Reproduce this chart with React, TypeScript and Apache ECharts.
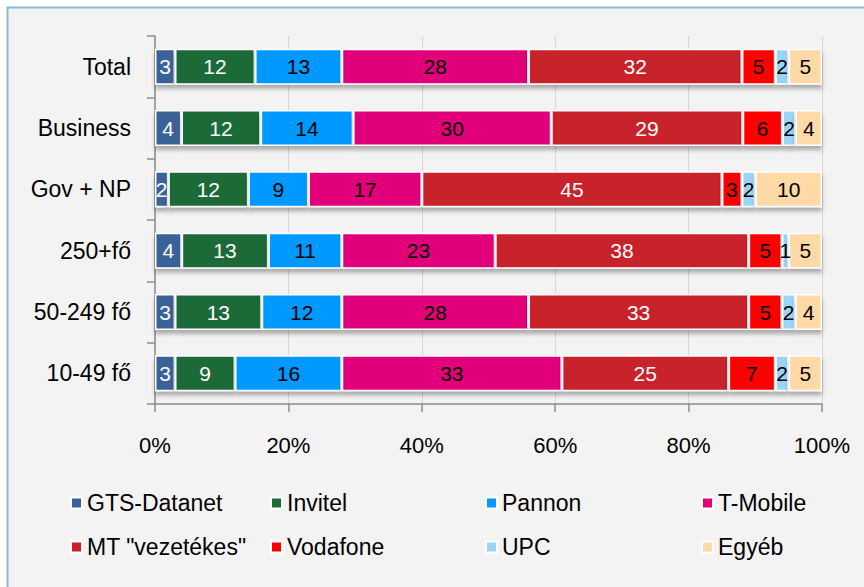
import React, { useEffect, useRef } from "react";
import * as echarts from "echarts";

const categories = ["Total", "Business", "Gov + NP", "250+fő", "50-249 fő", "10-49 fő"];
const seriesNames = ["GTS-Datanet", "Invitel", "Pannon", "T-Mobile", 'MT "vezetékes"', "Vodafone", "UPC", "Egyéb"];
const gts = [3, 4, 2, 4, 3, 3];
const invitel = [12, 12, 12, 13, 13, 9];
const pannon = [13, 14, 9, 11, 12, 16];
const tmobile = [28, 30, 17, 23, 28, 33];
const mtVezetekes = [32, 29, 45, 38, 33, 25];
const vodafone = [5, 6, 3, 5, 5, 7];
const upc = [2, 2, 2, 1, 2, 2];
const egyeb = [5, 4, 10, 5, 4, 5];
const xTicks = [0, 20, 40, 60, 80, 100];

const seriesValues = [gts, invitel, pannon, tmobile, mtVezetekes, vodafone, upc, egyeb];
const colors = ["#3A6297", "#1F6B38", "#0099FF", "#E2007A", "#C8202A", "#FF0000", "#9AD5F8", "#FFD9A6"];
const labelColors = ["#FFFFFF", "#FFFFFF", "#000000", "#000000", "#FFFFFF", "#000000", "#000000", "#000000"];
const legendLeft = [70, 270, 485, 701];
const legendTop = [490, 534];

export default function App() {
  const ref = useRef<HTMLDivElement>(null);
  useEffect(() => {
    if (!ref.current) return;
    const chart = echarts.init(ref.current, null, { renderer: "svg" });
    const totals = categories.map((_, i) => seriesValues.reduce((s, arr) => s + arr[i], 0));
    const font = "Liberation Sans, Arial, sans-serif";
    const series = seriesNames.map((name, si) => ({
      name,
      type: "bar",
      stack: "total",
      barWidth: 36,
      data: seriesValues[si].map((v, i) => ({ value: (v / totals[i]) * 100, raw: v })),
      itemStyle: {
        color: colors[si],
        borderColor: "#FFFFFF",
        borderWidth: 1.5,
        shadowColor: "rgba(0,0,0,0.3)",
        shadowBlur: 4,
        shadowOffsetY: 4,
      },
      label: {
        show: true,
        position: "inside",
        fontSize: 21,
        fontFamily: font,
        color: labelColors[si],
        formatter: (p: any) => String(p.data.raw),
      },
    }));
    const legends = seriesNames.map((name, i) => ({
      data: [name],
      left: legendLeft[i % 4],
      top: legendTop[Math.floor(i / 4)],
      icon: "rect",
      itemWidth: 11,
      itemHeight: 11,
      itemGap: 6,
      padding: 0,
      selectedMode: false,
      textStyle: { fontSize: 23, fontFamily: font, color: "#000", lineHeight: 26 },
    }));
    chart.setOption({
      animation: false,
      backgroundColor: "#FFFFFF",
      graphic: [
        {
          type: "rect",
          z: -10,
          silent: true,
          shape: { x: 7.5, y: 7.5, width: 900, height: 700 },
          style: { fill: "#F3F3F3", stroke: "#8FB6D2", lineWidth: 2 },
        },
      ],
      grid: { left: 155, right: 42, top: 36, bottom: 183, containLabel: false },
      legend: legends,
      xAxis: {
        type: "value",
        min: xTicks[0],
        max: xTicks[xTicks.length - 1],
        interval: 20,
        axisLine: { show: true, lineStyle: { color: "#8C8C8C", width: 1.5 } },
        axisTick: { show: true, length: 8, lineStyle: { color: "#8C8C8C", width: 1.5 } },
        splitLine: { show: true, lineStyle: { color: "#D6D6D6", width: 1 } },
        axisLabel: { margin: 30, fontSize: 22, fontFamily: font, color: "#000", formatter: "{value}%" },
      },
      yAxis: {
        type: "category",
        inverse: true,
        data: categories,
        axisLine: { show: true, lineStyle: { color: "#8C8C8C", width: 1.5 } },
        axisTick: { show: true, length: 8, lineStyle: { color: "#8C8C8C", width: 1.5 } },
        axisLabel: { margin: 24, fontSize: 23, fontFamily: font, color: "#000" },
      },
      series,
    });
    return () => chart.dispose();
  }, []);
  return (
    <div
      ref={ref}
      style={{ position: "absolute", left: 0, top: 0, width: 864, height: 587 }}
    />
  );
}
